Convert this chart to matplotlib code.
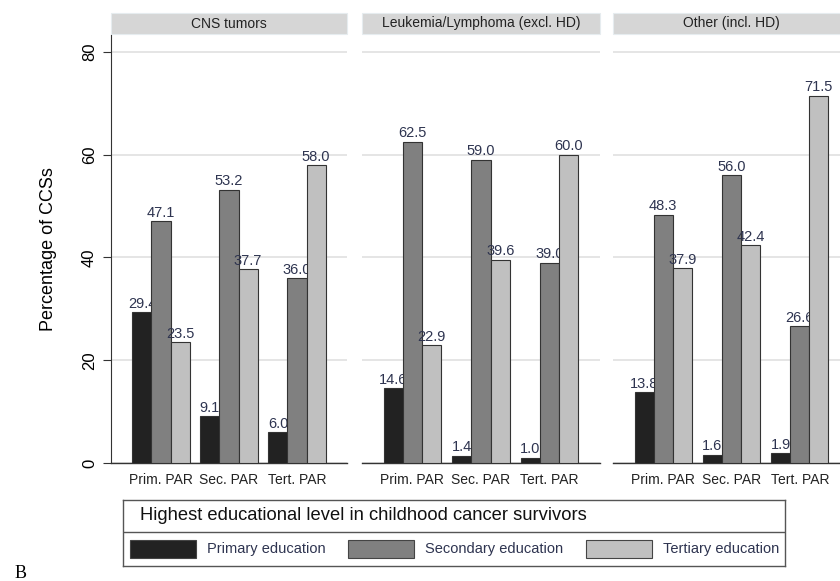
import numpy as np
import matplotlib
matplotlib.use("Agg")
from matplotlib import pyplot as plt
from matplotlib.patches import Rectangle

plt.rcParams["font.family"] = ["Liberation Sans", "DejaVu Sans"]

# data
panels = ["CNS tumors", "Leukemia/Lymphoma (excl. HD)", "Other (incl. HD)"]
groups = ["Prim. PAR", "Sec. PAR", "Tert. PAR"]
series = ["Primary education", "Secondary education", "Tertiary education"]
primary = [[29.4, 9.1, 6.0], [14.6, 1.4, 1.0], [13.8, 1.6, 1.9]]
secondary = [[47.1, 53.2, 36.0], [62.5, 59.0, 39.0], [48.3, 56.0, 26.6]]
tertiary = [[23.5, 37.7, 58.0], [22.9, 39.6, 60.0], [37.9, 42.4, 71.5]]
yticks = [0, 20, 40, 60, 80]

colors = ["#222222", "#808080", "#c0c0c0"]
label_color = "#2e3450"
W, H = 840, 581

fig = plt.figure(figsize=(W / 100, H / 100), dpi=100)

panel_px = [(111, 236), (362, 238), (613, 237)]
ax_bottom = (H - 463) / H
ax_height = 428 / H
x = np.arange(len(groups))
bw = 0.28

for i, (left, width) in enumerate(panel_px):
    ax = fig.add_axes([left / W, ax_bottom, width / W, ax_height])
    vals = [primary[i], secondary[i], tertiary[i]]
    for j in range(3):
        bars = ax.bar(x + (j - 1) * bw, vals[j], width=bw, color=colors[j],
                      edgecolor="#333333", linewidth=0.8, zorder=3)
        ax.bar_label(bars, fmt="%.1f", padding=1, fontsize=10.5, color=label_color)
    ax.set_xlim(-0.735, 2.735)
    ax.set_ylim(0, 83.3)
    ax.set_yticks(yticks)
    ax.grid(axis="y", color="#e3e3e3", linewidth=1.3, zorder=0)
    ax.set_xticks(x)
    ax.set_xticklabels(groups, fontsize=10, color="#222222")
    ax.tick_params(axis="x", length=0, pad=7)
    for s in ["top", "right"]:
        ax.spines[s].set_visible(False)
    ax.spines["bottom"].set_color("#333333")
    ax.spines["bottom"].set_linewidth(1.0)
    if i == 0:
        ax.spines["left"].set_color("#333333")
        ax.tick_params(axis="y", length=6, color="#333333", labelsize=12, pad=4)
        for t in ax.get_yticklabels():
            t.set_rotation(90)
            t.set_va("center")
        ax.set_ylabel("Percentage of CCSs", fontsize=13, labelpad=18)
    else:
        ax.spines["left"].set_visible(False)
        ax.tick_params(axis="y", length=0, labelleft=False)
    # strip header
    strip = Rectangle((0, 1 + 1 / 428), 1, 21 / 428, transform=ax.transAxes,
                      facecolor="#d6d6d6", edgecolor="#e6ecef", linewidth=0.8, clip_on=False)
    ax.add_patch(strip)
    ax.text(0.5, 1 + 11.5 / 428, panels[i], transform=ax.transAxes, ha="center",
            va="center", fontsize=10, color="#222222")

# legend box
lax = fig.add_axes([123 / W, (H - 566) / H, 662 / W, 66 / H])
lax.set_xlim(0, 1)
lax.set_ylim(0, 1)
lax.set_xticks([])
lax.set_yticks([])
for s in lax.spines.values():
    s.set_color("#555555")
    s.set_linewidth(1.0)
lax.axhline(0.515, color="#555555", linewidth=1.0)
lax.text(0.026, 0.76, "Highest educational level in childhood cancer survivors",
         fontsize=13.2, va="center", ha="left", color="#111111")
patch_x = [0.0106, 0.340, 0.699]
text_x = [0.127, 0.456, 0.816]
for j in range(3):
    lax.add_patch(Rectangle((patch_x[j], 0.12), 0.0997, 0.28, facecolor=colors[j],
                            edgecolor="#444444", linewidth=0.8))
    lax.text(text_x[j], 0.26, series[j], fontsize=10.5, va="center", ha="left",
             color="#2e3450")

fig.text(15 / W, 1 - 578 / H, "B", fontsize=13, family="Liberation Serif",
         va="baseline", ha="left")

fig.savefig("out.png", dpi=100)
